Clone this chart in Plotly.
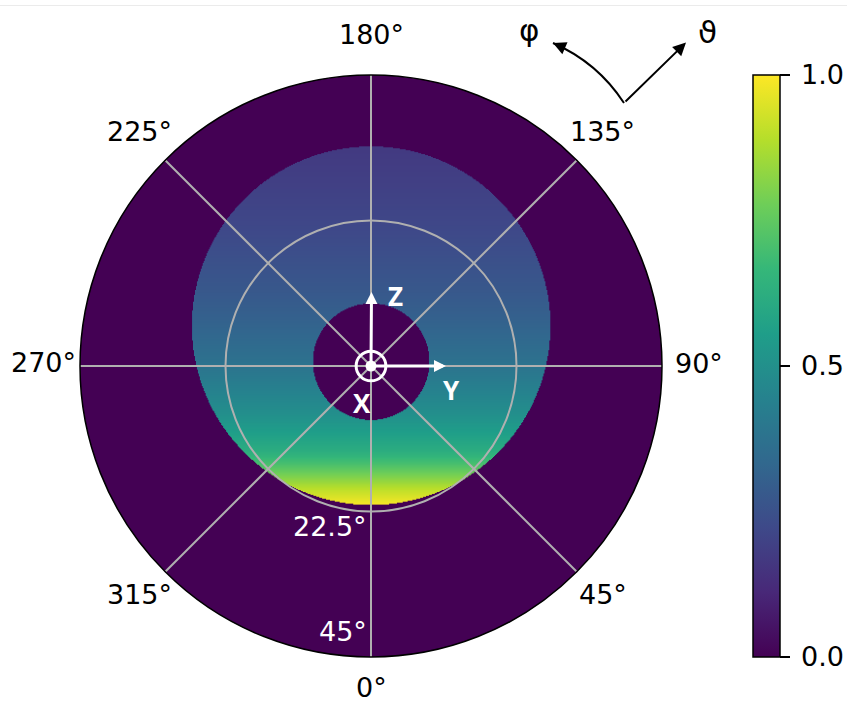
import numpy as np
import plotly.graph_objects as go

W, H = 847, 704

# Angular and radial tick marks of the polar frame (degrees)
angle_ticks = [0, 45, 90, 135, 180, 225, 270, 315]
angle_labels = ['0°', '45°', '90°', '135°', '180°', '225°', '270°', '315°']
radial_ticks = [22.5, 45]
radial_labels = ['22.5°', '45°']

# Normalised intensity across the illuminated cap, against vertical offset (deg, up = +)
profile_v = [34.0, 31.0, 26.0, 21.0, 16.0, 11.0, 6.0, 1.0, -3.0, -7.0, -10.0, -13.0, -15.0, -17.0, -19.0, -21.6]
profile_val = [0.17, 0.18, 0.20, 0.22, 0.25, 0.28, 0.32, 0.37, 0.43, 0.49, 0.55, 0.62, 0.70, 0.80, 0.90, 1.00]

# Illuminated cap and the shadowed core inside it: centre height and radius (deg)
cap_center, cap_radius = 6.26, 27.7
core_center, core_radius = 0.7, 9.0

R_MAX = 45.0

# ---- plot area in pixels ------------------------------------------------
PX_L, PX_R, PX_T, PX_B = 80, 662, 75, 657
dom_x = [PX_L / W, PX_R / W]
dom_y = [1 - PX_B / H, 1 - PX_T / H]
SCALE = (PX_R - PX_L) / (2 * R_MAX)          # pixels per degree
CX, CY = (PX_L + PX_R) / 2, (PX_T + PX_B) / 2


def px_to_data(px, py):
    return (px - CX) / SCALE, (CY - py) / SCALE


def px_to_paper(px, py):
    return px / W, 1 - py / H


def polar_to_xy(r, theta_deg):
    # 0° at the bottom, angles increasing counter-clockwise
    t = np.radians(theta_deg)
    return r * np.sin(t), -r * np.cos(t)


def data_to_paper(x, y):
    return (CX + x * SCALE) / W, 1 - (CY - y * SCALE) / H


# ---- intensity field on a fine grid ------------------------------------
step = 0.15
xs = np.arange(-28.2, 28.2 + step / 2, step)
ys = np.arange(-22.2, 34.4 + step / 2, step)
X, Y = np.meshgrid(xs, ys)
vals = np.interp(Y, profile_v[::-1], profile_val[::-1])
inside = (X ** 2 + (Y - cap_center) ** 2 <= cap_radius ** 2) & \
         (X ** 2 + (Y - core_center) ** 2 > core_radius ** 2)
Z = np.where(inside, np.round(vals, 4), np.nan)

FONT = 'DejaVu Sans'
FS = 27

fig = go.Figure()

fig.add_trace(go.Heatmap(
    x=xs, y=ys, z=Z, colorscale='Viridis', zmin=0, zmax=1, zsmooth='fast',
    hoverinfo='skip', xaxis='x', yaxis='y',
    colorbar=dict(
        thickness=27, thicknessmode='pixels',
        len=PX_B - PX_T, lenmode='pixels',
        x=753 / W, xanchor='left', xpad=0,
        y=1 - PX_B / H, yanchor='bottom', ypad=0,
        outlinecolor='black', outlinewidth=1.5,
        tickvals=[0, 0.5, 1], ticktext=['\u20090.0', '\u20090.5', '\u20091.0'],
        ticks='outside', ticklen=10, tickwidth=1.5, tickcolor='black',
        tickfont=dict(size=FS, family=FONT, color='black'),
        bgcolor='rgba(0,0,0,0)',
    ),
))

grid_col = '#b0b0b0'
fig.update_layout(
    width=W, height=H, margin=dict(l=0, r=0, t=0, b=0),
    paper_bgcolor='white', plot_bgcolor='white',
    font=dict(family=FONT, size=FS, color='black'),
    showlegend=False,
    xaxis=dict(domain=dom_x, range=[-R_MAX, R_MAX], visible=False, fixedrange=True),
    yaxis=dict(domain=dom_y, range=[-R_MAX, R_MAX], visible=False, fixedrange=True),
    polar=dict(
        domain=dict(x=dom_x, y=dom_y),
        bgcolor='rgba(0,0,0,0)',
        angularaxis=dict(
            rotation=270, direction='counterclockwise',
            tickvals=angle_ticks, showticklabels=False, ticks='',
            showgrid=True, gridcolor=grid_col, gridwidth=1.5,
            showline=True, linecolor='black', linewidth=1.5,
        ),
        radialaxis=dict(
            range=[0, R_MAX], tickvals=radial_ticks, showticklabels=False, ticks='',
            showgrid=True, gridcolor=grid_col, gridwidth=1.5, showline=False,
        ),
    ),
)

# an empty polar trace so the polar frame is drawn
fig.add_trace(go.Scatterpolar(r=[], theta=[], mode='markers', hoverinfo='skip',
                              showlegend=False, subplot='polar'))

shapes = [
    # sky background inside the frame
    dict(type='circle', xref='x', yref='y', x0=-R_MAX, x1=R_MAX, y0=-R_MAX, y1=R_MAX,
         fillcolor='#440154', line=dict(width=0), layer='below'),
    # X axis pointing out of the page
    dict(type='circle', xref='x', yref='y', x0=-2.3, x1=2.3, y0=-2.3, y1=2.3,
         line=dict(color='white', width=3), layer='above'),
    dict(type='circle', xref='x', yref='y', x0=-0.85, x1=0.85, y0=-0.85, y1=0.85,
         fillcolor='white', line=dict(width=0), layer='above'),
    # thin rule along the top edge
    dict(type='line', xref='paper', yref='paper', x0=0, x1=1, y0=1 - 5.5 / H, y1=1 - 5.5 / H,
         line=dict(color='#ebebeb', width=1)),
]

# curved φ arrow (quadratic Bézier) in paper coordinates
V = (624, 103)
C = (597.5, 62.4)
T = (553, 43)
pv, pc, pt = px_to_paper(*V), px_to_paper(*C), px_to_paper(*T)
shapes.append(dict(
    type='path', xref='paper', yref='paper',
    path=f'M {pv[0]},{pv[1]} Q {pc[0]},{pc[1]} {pt[0]},{pt[1]}',
    line=dict(color='black', width=2),
))
fig.update_layout(shapes=shapes)

ann = []
# angular tick labels on a ring just outside the frame
label_r = R_MAX * 328 / 291
for tv, tl in zip(angle_ticks, angle_labels):
    lx, ly = data_to_paper(*polar_to_xy(label_r, tv))
    ann.append(dict(x=lx, y=ly, xref='paper', yref='paper', text=tl, showarrow=False,
                    xanchor='center', yanchor='middle',
                    yshift=7 if tv == 0 else 3,   # keep the bottom label inside the page
                    font=dict(family=FONT, size=FS, color='black')))

# radial tick labels along the 0° spoke (inner one below its ring, outer one above)
for tv, tl, ya, ysh in zip(radial_ticks, radial_labels, ['top', 'bottom'], [3, 8]):
    lx, ly = polar_to_xy(tv, 0)
    ann.append(dict(x=lx, y=ly, xref='x', yref='y', text=tl, showarrow=False,
                    xanchor='right', yanchor=ya, xshift=-2, yshift=ysh,
                    font=dict(family=FONT, size=FS, color='white')))

# white axis arrows Z (up) and Y (right)
z_tip = px_to_data(371.5, 292)
y_tip = px_to_data(446, 366)
for tip in (z_tip, y_tip):
    ann.append(dict(x=tip[0], y=tip[1], ax=0, ay=0, xref='x', yref='y', axref='x', ayref='y',
                    text='', showarrow=True, arrowhead=2, arrowsize=0.8, arrowwidth=3,
                    arrowcolor='white', standoff=0))
for lbl, (px, py) in (('Z', (395, 296)), ('Y', (451, 390)), ('X', (362, 403))):
    dx, dy = px_to_data(px, py)
    ann.append(dict(x=dx, y=dy, xref='x', yref='y', text=lbl, showarrow=False,
                    xanchor='center', yanchor='middle',
                    font=dict(family='Open Sans', size=26, color='white', weight='bold')))

# ϑ arrow (straight) and φ arrowhead
th_tip = px_to_paper(686, 42.5)
ann.append(dict(x=th_tip[0], y=th_tip[1], xref='paper', yref='paper', ax=-62, ay=60.5,
                text='', showarrow=True, arrowhead=2, arrowsize=1.3, arrowwidth=2,
                arrowcolor='black', standoff=0))
ann.append(dict(x=pt[0], y=pt[1], xref='paper', yref='paper', ax=9.2, ay=4.0,
                text='', showarrow=True, arrowhead=2, arrowsize=1.3, arrowwidth=2,
                arrowcolor='black', standoff=0))
for lbl, (px, py) in (('φ', (529, 30)), ('ϑ', (707, 32))):
    ppx, ppy = px_to_paper(px, py)
    ann.append(dict(x=ppx, y=ppy, xref='paper', yref='paper', text=lbl, showarrow=False,
                    xanchor='center', yanchor='middle',
                    font=dict(family=FONT, size=31, color='black')))
fig.update_layout(annotations=ann)

fig.write_html('out.html')
